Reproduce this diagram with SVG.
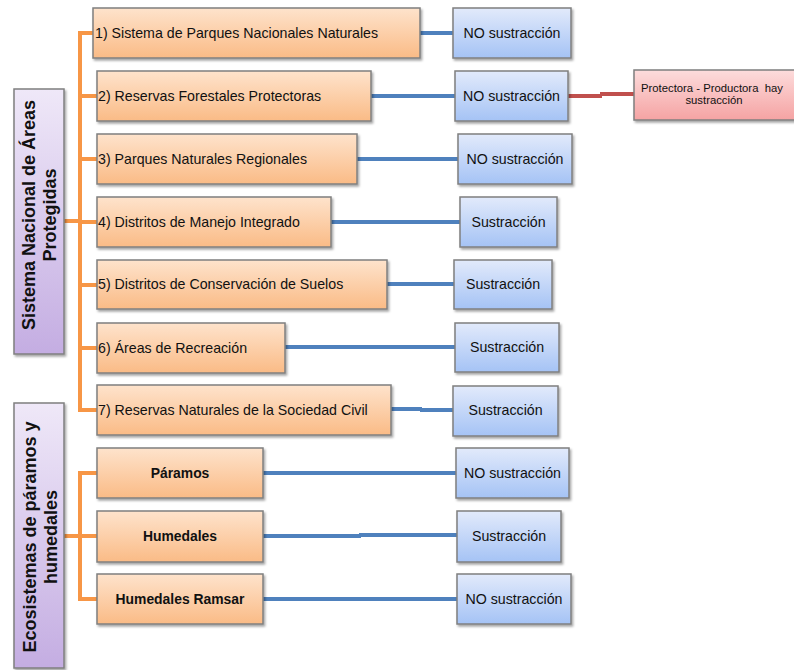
<svg xmlns="http://www.w3.org/2000/svg" width="794" height="670" viewBox="0 0 794 670">
  <defs>
    <linearGradient id="gOrange" x1="0" y1="0" x2="0" y2="1">
      <stop offset="0" stop-color="#FEE3CC"/>
      <stop offset="1" stop-color="#FABB86"/>
    </linearGradient>
    <linearGradient id="gBlue" x1="0" y1="0" x2="0" y2="1">
      <stop offset="0" stop-color="#E2EAFB"/>
      <stop offset="1" stop-color="#A5C3F5"/>
    </linearGradient>
    <linearGradient id="gPurple" x1="0" y1="0" x2="0" y2="1">
      <stop offset="0" stop-color="#EFE8F8"/>
      <stop offset="1" stop-color="#C4ADE2"/>
    </linearGradient>
    <linearGradient id="gPink" x1="0" y1="0" x2="0" y2="1">
      <stop offset="0" stop-color="#FDDCDC"/>
      <stop offset="1" stop-color="#F5A3A3"/>
    </linearGradient>
    <filter id="shadow" x="-10%" y="-10%" width="130%" height="140%">
      <feDropShadow dx="1.5" dy="2" stdDeviation="1.2" flood-color="#000" flood-opacity="0.35"/>
    </filter>
  </defs>
  <style>
    .box { stroke: #7F7F7F; stroke-width: 1.5; filter: url(#shadow); }
    .orange { fill: url(#gOrange); }
    .blue { fill: url(#gBlue); }
    .purple { fill: url(#gPurple); }
    .pink { fill: url(#gPink); }
    text { font-family: "Liberation Sans", Arial, sans-serif; fill: #111; }
    .lbl { font-size: 14.2px; }
    .res { font-size: 14.2px; text-anchor: middle; }
    .bold { font-size: 13.9px; font-weight: bold; text-anchor: middle; }
    .side { font-size: 18px; font-weight: bold; text-anchor: middle; }
    .small { font-size: 11.3px; white-space: pre; }
    .tree { fill: none; stroke: #F79646; stroke-width: 4; }
    .link { fill: none; stroke: #4F81BD; stroke-width: 4; }
    .red { fill: none; stroke: #C0504D; stroke-width: 4; }
  </style>

  <rect width="794" height="670" fill="#FFFFFF"/>

  <!-- connectors -->
  <g id="connectors">
    <!-- orange tree: protected areas -->
    <path class="tree" d="M64 221 H80 M80 31 V412 M78 33 H93 M80 96 H97 M80 159 H97 M80 222 H97 M80 285 H97 M80 348 H97 M78 410 H97"/>
    <!-- orange tree: ecosystems -->
    <path class="tree" d="M64 536 H80 M80 471 V601 M78 473 H97 M80 536 H97 M78 599 H97"/>
    <!-- blue links to outcomes -->
    <path class="link" d="M420 33 H453"/>
    <path class="link" d="M371 96 H455"/>
    <path class="link" d="M357 159 H458"/>
    <path class="link" d="M331 222 H460"/>
    <path class="link" d="M387 284 H454"/>
    <path class="link" d="M285 347 H455"/>
    <path class="link" d="M391 409 H422 M420 410 H453"/>
    <path class="link" d="M263 473 H456"/>
    <path class="link" d="M263 536 H361 M359 535 H457"/>
    <path class="link" d="M263 599 H457"/>
    <!-- red link -->
    <path class="red" d="M568 96 H602 M600 94 H634"/>
  </g>

  <!-- side categories -->
  <g id="cat-sinap">
    <rect class="box purple" x="14" y="89" width="50" height="265"/>
    <text class="side" transform="translate(29,215) rotate(-90)" y="6">Sistema Nacional de Áreas</text>
    <text class="side" transform="translate(50,215) rotate(-90)" y="6">Protegidas</text>
  </g>
  <g id="cat-ecosistemas">
    <rect class="box purple" x="14" y="403" width="50" height="265"/>
    <text class="side" transform="translate(30,537) rotate(-90)" y="6">Ecosistemas de páramos y</text>
    <text class="side" transform="translate(51,537) rotate(-90)" y="6">humedales</text>
  </g>

  <!-- protected area categories -->
  <g id="area-1">
    <rect class="box orange" x="93" y="8" width="327" height="50"/>
    <text class="lbl" x="95" y="37.5">1) Sistema de Parques Nacionales Naturales</text>
  </g>
  <g id="area-2">
    <rect class="box orange" x="97" y="71" width="274" height="50"/>
    <text class="lbl" x="98" y="100.5">2) Reservas Forestales Protectoras</text>
  </g>
  <g id="area-3">
    <rect class="box orange" x="97" y="134" width="260" height="50"/>
    <text class="lbl" x="98" y="163.5">3) Parques Naturales Regionales</text>
  </g>
  <g id="area-4">
    <rect class="box orange" x="97" y="197" width="234" height="50"/>
    <text class="lbl" x="98" y="226.5">4) Distritos de Manejo Integrado</text>
  </g>
  <g id="area-5">
    <rect class="box orange" x="97" y="260" width="290" height="49"/>
    <text class="lbl" x="98" y="289">5) Distritos de Conservación de Suelos</text>
  </g>
  <g id="area-6">
    <rect class="box orange" x="97" y="323" width="188" height="50"/>
    <text class="lbl" x="98" y="352.5">6) Áreas de Recreación</text>
  </g>
  <g id="area-7">
    <rect class="box orange" x="97" y="385" width="294" height="50"/>
    <text class="lbl" x="98" y="414.5">7) Reservas Naturales de la Sociedad Civil</text>
  </g>

  <!-- ecosystems -->
  <g id="eco-paramos">
    <rect class="box orange" x="97" y="448" width="166" height="50"/>
    <text class="bold" x="180" y="478">Páramos</text>
  </g>
  <g id="eco-humedales">
    <rect class="box orange" x="97" y="511" width="166" height="51"/>
    <text class="bold" x="180" y="541">Humedales</text>
  </g>
  <g id="eco-ramsar">
    <rect class="box orange" x="97" y="574" width="166" height="50"/>
    <text class="bold" x="180" y="604">Humedales Ramsar</text>
  </g>

  <!-- outcomes -->
  <g id="res-1">
    <rect class="box blue" x="453" y="8" width="118" height="50"/>
    <text class="res" x="512" y="37.5">NO sustracción</text>
  </g>
  <g id="res-2">
    <rect class="box blue" x="455" y="71" width="113" height="50"/>
    <text class="res" x="511.5" y="100.5">NO sustracción</text>
  </g>
  <g id="res-3">
    <rect class="box blue" x="458" y="134" width="114" height="50"/>
    <text class="res" x="515" y="163.5">NO sustracción</text>
  </g>
  <g id="res-4">
    <rect class="box blue" x="460" y="197" width="97" height="50"/>
    <text class="res" x="508.5" y="226.5">Sustracción</text>
  </g>
  <g id="res-5">
    <rect class="box blue" x="454" y="260" width="98" height="49"/>
    <text class="res" x="503" y="289">Sustracción</text>
  </g>
  <g id="res-6">
    <rect class="box blue" x="455" y="323" width="104" height="49"/>
    <text class="res" x="507" y="352">Sustracción</text>
  </g>
  <g id="res-7">
    <rect class="box blue" x="453" y="386" width="105" height="50"/>
    <text class="res" x="505.5" y="415">Sustracción</text>
  </g>
  <g id="res-8">
    <rect class="box blue" x="456" y="448" width="113" height="50"/>
    <text class="res" x="512.5" y="477.5">NO sustracción</text>
  </g>
  <g id="res-9">
    <rect class="box blue" x="457" y="511" width="104" height="51"/>
    <text class="res" x="509" y="540.5">Sustracción</text>
  </g>
  <g id="res-10">
    <rect class="box blue" x="457" y="574" width="114" height="50"/>
    <text class="res" x="514" y="603.5">NO sustracción</text>
  </g>

  <!-- exception for protective-productive reserves -->
  <g id="res-pp">
    <rect class="box pink" x="634" y="70" width="170" height="50"/>
    <text class="small" x="641" y="92" xml:space="preserve">Protectora - Productora  hay</text>
    <text class="small" x="714" y="104" text-anchor="middle">sustracción</text>
  </g>
</svg>
